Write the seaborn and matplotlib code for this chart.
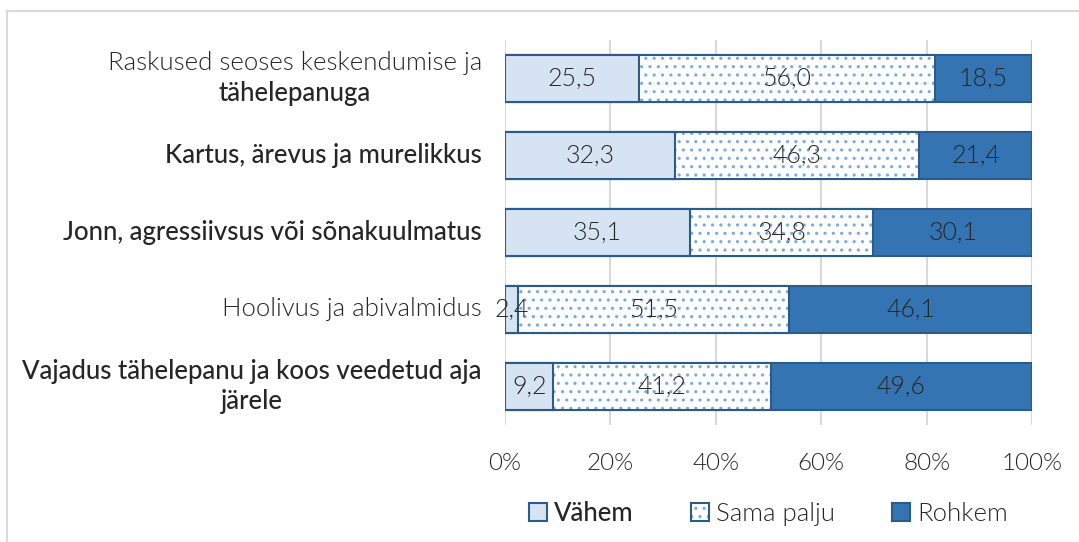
import pandas as pd
import numpy as np
import matplotlib
matplotlib.use("Agg")
import matplotlib.pyplot as plt
import matplotlib.transforms as mtransforms
from matplotlib.patches import Rectangle, Patch
from matplotlib.legend_handler import HandlerTuple
import seaborn as sns

# Andmed
categories = [
    "Raskused seoses keskendumise ja tähelepanuga",
    "Kartus, ärevus ja murelikkus",
    "Jonn, agressiivsus või sõnakuulmatus",
    "Hoolivus ja abivalmidus",
    "Vajadus tähelepanu ja koos veedetud aja järele",
]
label_lines = [
    ["Raskused seoses keskendumise ja", "tähelepanuga"],
    ["Kartus, ärevus ja murelikkus"],
    ["Jonn, agressiivsus või sõnakuulmatus"],
    ["Hoolivus ja abivalmidus"],
    ["Vajadus tähelepanu ja koos veedetud aja", "järele"],
]
vahem = [25.5, 32.3, 35.1, 2.4, 9.2]
sama = [56.0, 46.3, 34.8, 51.5, 41.2]
rohkem = [18.5, 21.4, 30.1, 46.1, 49.6]
series_names = ["Vähem", "Sama palju", "Rohkem"]
tick_vals = [0, 20, 40, 60, 80, 100]
tick_labels = ["0%", "20%", "40%", "60%", "80%", "100%"]

# Stiilid
LIGHT, BOLD = 300, 500
label_weights = [[LIGHT, BOLD], [BOLD], [BOLD], [LIGHT], [BOLD, BOLD]]
c_vahem = "#D5E3F2"
c_dots = "#7AABDD"
c_rohkem = "#3574B2"
c_edge = "#2A5B8A"
c_text = "#262626"

df = pd.DataFrame({"kategooria": categories, "vahem": vahem, "sama": sama, "rohkem": rohkem})
df["vs"] = df["vahem"] + df["sama"]
df["kokku"] = df["vs"] + df["rohkem"]

sns.set_theme(style="white")
plt.rcParams["font.family"] = ["Lato", "DejaVu Sans"]
plt.rcParams["hatch.linewidth"] = 1.1

fig, ax = plt.subplots(figsize=(10.79, 5.42), dpi=100)
fig.subplots_adjust(left=0.468, right=0.9565, top=0.926, bottom=0.216)

bw = 0.61
common = dict(data=df, y="kategooria", orient="h", errorbar=None, saturation=1, width=bw, ax=ax)
sns.barplot(x="kokku", color=c_rohkem, edgecolor=c_edge, linewidth=1.5, **common)
sns.barplot(x="vs", color="white", edgecolor=c_dots, linewidth=0, hatch="..", **common)
sns.barplot(x="vs", color=c_edge, fill=False, linewidth=1.5, **common)
sns.barplot(x="vahem", color=c_vahem, edgecolor=c_edge, linewidth=1.5, **common)

# Väärtused segmentide keskele
for i in range(len(categories)):
    centers = [vahem[i] / 2, vahem[i] + sama[i] / 2, vahem[i] + sama[i] + rohkem[i] / 2]
    for cx, v in zip(centers, [vahem[i], sama[i], rohkem[i]]):
        ax.text(cx, i, f"{v:.1f}".replace(".", ","), ha="center", va="center",
                fontsize=18, fontweight=LIGHT, color=c_text)

ax.set_xlim(0, 100)
ax.set_xticks(tick_vals)
ax.set_xticklabels(tick_labels, fontsize=17.5, fontweight=LIGHT, color=c_text)
ax.tick_params(axis="x", length=0, pad=20)
ax.set_yticks(range(len(categories)))
ax.set_yticklabels([""] * len(categories))
ax.tick_params(axis="y", length=0)
ax.set_xlabel("")
ax.set_ylabel("")
ax.grid(axis="x", color="#D9D9D9", linewidth=1.5)
ax.set_axisbelow(True)
for s in ax.spines.values():
    s.set_visible(False)

# Kategooriate nimed
trans = mtransforms.blended_transform_factory(ax.transAxes, ax.transData)
lab_x = -0.044
fs_lab = 18.5
fig.canvas.draw()
renderer = fig.canvas.get_renderer()
for i, lines in enumerate(label_lines):
    w = label_weights[i]
    if len(lines) == 1:
        ax.text(lab_x, i, lines[0], transform=trans, ha="right", va="center",
                fontsize=fs_lab, fontweight=w[0], color=c_text)
    else:
        t1 = ax.annotate(lines[0], xy=(lab_x, i), xycoords=trans, xytext=(0, 11),
                         textcoords="offset points", ha="right", va="center",
                         fontsize=fs_lab, fontweight=w[0], color=c_text)
        bb = t1.get_window_extent(renderer)
        cx = ax.transAxes.inverted().transform(((bb.x0 + bb.x1) / 2, 0))[0]
        ax.annotate(lines[1], xy=(cx, i), xycoords=trans, xytext=(0, -11),
                    textcoords="offset points", ha="center", va="center",
                    fontsize=fs_lab, fontweight=w[1], color=c_text)

# Legend
handles = [
    Patch(facecolor=c_vahem, edgecolor=c_edge, linewidth=1.5),
    (Patch(facecolor="white", edgecolor=c_dots, linewidth=0, hatch=".."),
     Patch(facecolor="none", edgecolor=c_edge, linewidth=1.5)),
    Patch(facecolor=c_rohkem, edgecolor=c_edge, linewidth=1.5),
]
leg = ax.legend(handles, series_names, loc="center", bbox_to_anchor=(0.5, -0.229), ncol=3,
                frameon=False, fontsize=18.5, handlelength=0.7, handleheight=0.7,
                handletextpad=0.3, columnspacing=2.2,
                handler_map={tuple: HandlerTuple(ndivide=1, pad=0)})
for t in leg.get_texts():
    t.set_fontweight(LIGHT)
    t.set_color(c_text)
leg.get_texts()[0].set_fontweight(BOLD)

# Raam
fig.add_artist(Rectangle((7 / 1079, -0.1), 1.2, 1.1 - 11 / 542, transform=fig.transFigure,
                         fill=False, edgecolor="#D9D9D9", linewidth=1.5))

fig.savefig("out.png", dpi=100)
